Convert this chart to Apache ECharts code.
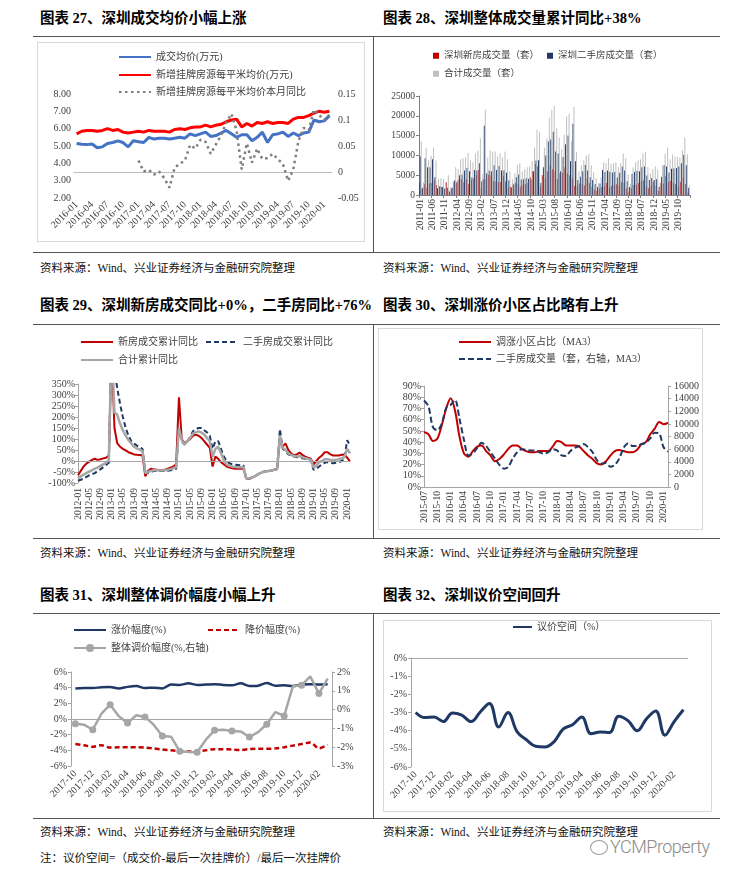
<!DOCTYPE html>
<html><head><meta charset="utf-8">
<script src="https://cdn.jsdelivr.net/npm/echarts@6/dist/echarts.min.js"></script>
<style>
body{margin:0;background:#fff;width:729px;height:881px;position:relative;overflow:hidden;font-family:"Liberation Serif","Noto Sans CJK SC",serif;}
.t{position:absolute;font-family:"Liberation Serif","Noto Sans CJK SC",serif;font-weight:700;font-size:14.5px;line-height:18px;color:#000;white-space:nowrap;}
.s{position:absolute;font-size:11.5px;line-height:14px;color:#111;white-space:nowrap;}
.h{position:absolute;height:0;border-top:1px solid #555;}
.v{position:absolute;width:0;border-left:1px solid #555;}
.c{position:absolute;}
.b{position:absolute;border:1px solid #d9d9d9;box-sizing:border-box;}
.wm{position:absolute;font-family:Roboto,"Noto Sans",sans-serif;font-weight:300;font-size:18px;letter-spacing:-0.5px;color:#8a8a8a;white-space:nowrap;}
.wmi{position:absolute;width:16px;height:13px;border:1.5px solid #9a9a9a;border-radius:50%;}
</style></head><body>

<div class="t" style="left:40px;top:9px">图表 27、深圳成交均价小幅上涨</div>
<div class="t" style="left:383px;top:9px">图表 28、深圳整体成交量累计同比+38%</div>
<div class="h" style="left:33px;top:36px;width:687px"></div>
<div class="v" style="left:373px;top:36px;height:216px"></div>
<div class="h" style="left:33px;top:252px;width:687px"></div>
<div class="s" style="left:40px;top:261px">资料来源：Wind、兴业证券经济与金融研究院整理</div>
<div class="s" style="left:383px;top:261px">资料来源：Wind、兴业证券经济与金融研究院整理</div>

<div class="t" style="left:40px;top:296px">图表 29、深圳新房成交同比+0%，二手房同比+76%</div>
<div class="t" style="left:383px;top:296px">图表 30、深圳涨价小区占比略有上升</div>
<div class="h" style="left:33px;top:324px;width:687px"></div>
<div class="v" style="left:373px;top:324px;height:214px"></div>
<div class="h" style="left:33px;top:538px;width:687px"></div>
<div class="s" style="left:40px;top:546px">资料来源：Wind、兴业证券经济与金融研究院整理</div>
<div class="s" style="left:383px;top:546px">资料来源：Wind、兴业证券经济与金融研究院整理</div>

<div class="t" style="left:40px;top:586px">图表 31、深圳整体调价幅度小幅上升</div>
<div class="t" style="left:383px;top:586px">图表 32、深圳议价空间回升</div>
<div class="h" style="left:33px;top:613px;width:687px"></div>
<div class="v" style="left:373px;top:613px;height:205px"></div>
<div class="h" style="left:33px;top:818px;width:687px"></div>
<div class="s" style="left:40px;top:825px">资料来源：Wind、兴业证券经济与金融研究院整理</div>
<div class="s" style="left:383px;top:825px">资料来源：Wind、兴业证券经济与金融研究院整理</div>
<div class="s" style="left:40px;top:851px">注：议价空间=（成交价-最后一次挂牌价）/最后一次挂牌价</div>
<div class="wmi" style="left:590px;top:840px"></div>
<div class="wm" style="left:610px;top:836px">YCMProperty</div>

<div class="b" style="left:37px;top:42px;width:328px;height:200px"></div>
<div class="b" style="left:378px;top:328px;width:325px;height:202px"></div>
<div class="b" style="left:383px;top:620px;width:329px;height:192px"></div>

<div id="c1" class="c" style="left:37px;top:42px;width:328px;height:200px"></div>
<div id="c2" class="c" style="left:378px;top:42px;width:334px;height:212px"></div>
<div id="c3" class="c" style="left:33px;top:328px;width:335px;height:205px"></div>
<div id="c4" class="c" style="left:378px;top:328px;width:325px;height:202px"></div>
<div id="c5" class="c" style="left:33px;top:618px;width:335px;height:198px"></div>
<div id="c6" class="c" style="left:383px;top:620px;width:329px;height:192px"></div>

<script>
// ---------- DATA ----------
function months(y, m, n) { const a = []; for (let i = 0; i < n; i++) { a.push(y + '-' + String(m).padStart(2, '0')); m++; if (m > 12) { m = 1; y++; } } return a; }

// Chart 27
const cat1 = months(2016, 1, 50);
const p1Avg = [5.15,5.1,5.08,5.12,4.9,4.95,5.15,5.2,5.3,5.2, 4.95,5.3,5.25,5.2,5.5,5.4,5.45,5.45,5.4,5.45, 5.5,5.45,5.7,5.6,5.7,5.8,5.55,5.6,5.75,5.9, 5.7,5.5,5.65,5.65,5.3,5.5,5.8,5.2,5.65,5.7, 5.8,5.55,5.75,5.6,5.75,5.8,6.5,6.4,6.45,6.75];
const p1List = [5.7,5.85,5.9,5.9,5.85,5.9,6.0,5.9,5.95,5.8, 5.75,5.8,5.85,5.8,5.9,5.85,5.85,5.85,5.8,5.95, 6.0,5.95,6.05,6.1,6.1,6.2,6.1,6.2,6.25,6.4, 6.5,6.55,6.1,6.3,6.15,6.35,6.3,6.4,6.3,6.35, 6.35,6.3,6.55,6.65,6.65,6.75,6.9,7.0,6.95,7.0];
const p1Yoy = [null,null,null,null,null,null,null,null,null,null,null,null,
  0.022,0.001,0.004,-0.005,0.001,-0.012,-0.03,0.008,0.016,0.022,0.052,0.045,0.062,0.058,0.035,0.053,0.07,0.095,0.112,0.08,0.005,0.055,0.018,0.045,0.025,0.027,0.035,0.025,0.015,-0.017,0.005,0.06,0.085,0.08,0.12,0.11,0.1,0.11];

// Chart 28
const cat2 = months(2011, 1, 110);
const p2New = [3000,1500,2700,1800,2900,3000,3800,2500,2100,2000,1700,3200,
  1200,1700,3300,3000,4000,4000,3300,3900,2700,3800,4200,5000,
  6300,1800,4000,4000,5100,5000,3500,3500,3300,3300,4800,3400,
  1800,2100,2900,3100,2800,2100,2500,2800,3100,4500,6000,7800,
  7200,2000,5000,4200,6000,7500,6500,6000,4000,5500,5600,7000,
  5500,5000,4200,2300,2200,2900,2800,2400,4100,3000,2000,1400,
  1000,1600,2000,2200,3000,1900,2300,2500,2700,2400,3300,3100,
  1700,800,1700,2500,2600,3000,3500,3700,2100,1700,2200,3400,
  2300,1100,2900,2900,4800,3300,3600,3000,2800,2200,3300,4400,
  2800,700];
const p2Second = [9700,1800,9300,7000,7000,9000,4500,1700,2200,2000,1600,1800,
  800,1800,3700,3500,5000,5200,6200,6800,6000,4500,6300,6200,
  8000,3500,17500,5500,6200,6000,7500,6300,7300,6200,6200,5600,
  3700,1900,2600,4500,5200,3900,4000,4200,4100,4000,6000,8700,
  8800,3000,7000,10000,13500,14000,16000,11000,10500,6000,9600,12800,
  15000,8500,18000,8500,3800,4600,6000,7600,6200,4500,3800,2800,
  2000,2900,6300,5800,6200,5900,5700,5800,4400,5600,7200,6200,
  3500,2000,5300,5800,6100,6000,7000,7200,4900,3800,4300,3800,
  4000,2100,4600,7500,7200,5700,6600,6700,6800,7200,8000,10100,
  7500,1800];
const p2Total = [13500,3300,12000,8800,9900,12000,8700,4100,4300,4100,3300,5000,
  2000,3500,7000,6500,9000,9200,9500,10700,8700,8300,10500,11200,
  14300,5300,21500,9500,11300,11000,11000,9800,10600,9500,11000,9000,
  6000,4000,5500,7600,8000,6000,6500,7000,7200,8500,12000,16500,
  16000,5000,12000,14200,19500,21500,22500,17000,14500,11500,15200,19800,
  20500,13500,22200,10800,6000,7500,8800,10000,10300,7500,5800,4200,
  3000,4500,8300,8000,9300,7800,8000,8300,7100,8000,10500,9300,
  5200,2800,7000,8300,8700,9000,10500,10900,7000,5500,6500,7200,
  6300,3200,7500,10400,12000,9000,10200,9700,9600,9400,11300,14500,
  10300,2500];

// Chart 29
const cat3 = months(2012, 1, 98);
const p3New = [-65,-45,-25,-12,-3,5,10,5,8,12,15,25,
  500,150,80,65,55,48,40,35,30,28,27,25,
  -70,-45,-35,-38,-40,-42,-42,-40,-35,-30,-25,-15,
  290,100,80,90,100,115,120,115,105,90,75,60,
  -25,20,10,-5,-15,-25,-30,-33,-35,-35,-35,-35,
  -80,-82,-75,-70,-62,-55,-50,-47,-45,-43,-40,-38,
  95,65,80,50,35,25,30,38,28,20,15,10,
  -15,0,15,25,40,40,30,25,25,25,28,30,
  15,-3];
const p3Second = [-90,-85,-80,-72,-65,-60,-55,-45,-38,-28,-18,-8,
  600,420,330,260,200,150,115,90,80,70,62,55,
  -50,-55,-50,-45,-45,-45,-45,-45,-45,-42,-40,-35,
  150,90,75,90,110,135,145,150,150,140,130,115,
  55,90,90,55,20,0,-10,-15,-17,-18,-20,-20,
  -80,-80,-75,-70,-62,-55,-50,-47,-45,-43,-40,-38,
  145,55,45,30,25,20,18,15,12,10,8,5,
  -40,-35,-25,-15,-8,-5,-8,-10,-8,-5,0,10,
  95,70];
const p3Total = [-78,-70,-62,-55,-48,-42,-35,-30,-22,-15,-8,5,
  550,220,210,170,140,115,95,80,65,57,52,45,
  -55,-50,-45,-42,-42,-43,-43,-42,-40,-37,-33,-28,
  150,95,75,90,105,125,130,135,130,120,105,90,
  20,55,65,35,5,-15,-22,-25,-27,-28,-28,-28,
  -80,-80,-75,-70,-62,-55,-50,-47,-45,-43,-40,-38,
  115,60,50,35,28,22,22,22,17,13,10,5,
  -30,-20,-5,0,8,8,5,5,5,8,12,18,
  55,35];

// Chart 30
const cat4 = months(2015, 7, 56);
const p4Up = [49,47,41,43,55,70,79,68,45,30, 27,32,36,37,32,28,23,25,29,34, 37,37,34,32,31,31,32,32,32,36, 41,40,37,37,37,36,32,28,25,21, 20,23,28,32,33,32,31,31,33,38, 40,47,52,58,56,57];
const p4Vol = [13700,12800,9500,9000,10000,12500,13000,13800,10800,7500, 5000,5300,6200,7000,6500,5500,4500,3500,2900,3200, 4500,5500,6000,5900,5800,5800,5500,5300,5500,6000, 5800,5000,4900,5700,6200,6500,6800,6300,5500,4200, 3700,3800,3200,3500,4500,6200,6900,6500,6500,6800, 7000,7700,8600,8500,6300,5600];

// Chart 31
const cat5 = months(2017, 10, 30);
const p5Up = [3.9,3.95,3.95,4.05,4.1,3.9,4.1,4.2,3.95,4.0, 3.9,4.4,4.35,4.55,4.35,4.4,4.45,4.35,4.3,4.55, 4.2,4.25,4.6,4.25,4.3,4.2,4.4,4.45,4.4,4.45];
const p5Down = [-3.2,-3.35,-3.55,-3.35,-3.65,-3.6,-3.6,-3.6,-3.65,-3.75, -3.9,-4.0,-4.1,-4.15,-4.1,-4.0,-3.85,-3.85,-3.9,-3.95, -3.85,-3.8,-3.8,-3.75,-3.6,-3.4,-3.2,-3.0,-3.75,-3.3];
const p5All = [-0.75,-0.8,-1.07,-0.22,0.26,-0.36,-0.71,-0.3,-0.39,-0.8, -1.4,-1.44,-2.22,-2.26,-2.27,-1.6,-1.1,-1.07,-1.14,-1.16, -1.46,-1.2,-0.78,-0.13,-0.34,1.24,1.29,1.77,0.85,1.65];

// Chart 32
const cat6 = months(2017, 10, 30);
const p6Space = [-3.0,-3.28,-3.25,-3.5,-3.03,-3.15,-3.5,-2.97,-2.5,-3.8, -3.0,-4.07,-4.5,-4.86,-4.9,-4.6,-3.9,-3.67,-3.25,-4.17, -4.07,-4.1,-3.2,-3.45,-4.0,-3.35,-2.92,-4.25,-3.5,-2.85];

// ---------- STYLE ----------
const FF = '"Liberation Serif","Noto Sans CJK SC",serif';
const LBL = { fontFamily: FF, fontSize: 10, color: '#404040' };
const AXC = '#A6A6A6';
const plain = v => String(v);
function lg(name, left, top, o) {
  return Object.assign({ show: true, data: [name], left: left, top: top, padding: 0, itemGap: 0, itemWidth: 32, itemHeight: 10, selectedMode: false,
    itemStyle: { opacity: 0 },
    textStyle: { fontFamily: FF, fontSize: 10, color: '#404040' } }, o || {});
}
function zeroLine() {
  return { silent: true, symbol: ['none', 'none'], label: { show: false }, lineStyle: { color: AXC, width: 1, type: 'solid' }, data: [{ yAxis: 0 }], animation: false };
}
function valAxis(o) {
  return Object.assign({ type: 'value', splitLine: { show: false }, axisLine: { show: true, lineStyle: { color: AXC } }, axisTick: { show: true, length: 3, lineStyle: { color: AXC } } }, o);
}
function init(id) { return echarts.init(document.getElementById(id), null, { renderer: 'canvas' }); }

// ---------- CHART 27 ----------
init('c1').setOption({
  animation: false,
  grid: { left: 37, right: 33, top: 52, bottom: 44, outerBoundsMode: 'none' },
  legend: [lg('成交均价(万元)', 81, 10), lg('新增挂牌房源每平米均价(万元)', 81, 28), lg('新增挂牌房源每平米均价本月同比', 81, 45)],
  xAxis: { type: 'category', data: cat1, boundaryGap: true, axisLine: { lineStyle: { color: '#BFBFBF' } }, axisTick: { show: false },
    axisLabel: Object.assign({}, LBL, { rotate: 45, interval: 2, margin: 5 }) },
  yAxis: [
    valAxis({ min: 2, max: 8, interval: 1, axisLine: { show: false }, axisTick: { show: false }, axisLabel: Object.assign({}, LBL, { margin: 3, formatter: v => v.toFixed(2) }) }),
    valAxis({ min: -0.05, max: 0.15, interval: 0.05, position: 'right', axisLine: { show: false }, axisTick: { show: false }, axisLabel: Object.assign({}, LBL, { margin: 6 }) })
  ],
  series: [
    { name: '成交均价(万元)', type: 'line', data: p1Avg, symbol: 'none', lineStyle: { color: '#4472C4', width: 3 }, itemStyle: { color: '#4472C4' } },
    { name: '新增挂牌房源每平米均价(万元)', type: 'line', data: p1List, symbol: 'none', lineStyle: { color: '#FF0000', width: 3 }, itemStyle: { color: '#FF0000' } },
    { name: '新增挂牌房源每平米均价本月同比', type: 'line', yAxisIndex: 1, data: p1Yoy, symbol: 'none', lineStyle: { color: '#7F7F7F', width: 2.5, type: [2.5, 3.5] }, itemStyle: { color: '#7F7F7F' } }
  ]
});

// ---------- CHART 28 ----------
const barLg = { itemWidth: 6, itemHeight: 6, icon: 'rect', itemStyle: { opacity: 1 }, textStyle: { fontFamily: FF, fontSize: 9.5, color: '#404040' } };
init('c2').setOption({
  animation: false,
  grid: { left: 41, right: 22, top: 54, bottom: 59, outerBoundsMode: 'none' },
  legend: [lg('深圳新房成交量（套）', 55, 9, barLg), lg('深圳二手房成交量（套）', 169, 9, barLg), lg('合计成交量（套）', 55, 27, barLg)],
  xAxis: { type: 'category', data: cat2, boundaryGap: true, axisLine: { lineStyle: { color: '#808080' } },
    axisTick: { show: true, interval: 4, length: 3, lineStyle: { color: '#808080' } },
    axisLabel: Object.assign({}, LBL, { fontSize: 9.5, rotate: 90, interval: 4, margin: 4 }) },
  yAxis: valAxis({ min: 0, max: 25000, interval: 5000, axisLine: { show: true, lineStyle: { color: '#808080' } }, axisTick: { show: true, length: 3, lineStyle: { color: '#808080' } }, axisLabel: Object.assign({}, LBL, { fontSize: 9.5, margin: 4, formatter: plain }) }),
  series: [
    { name: '深圳新房成交量（套）', type: 'bar', data: p2New, barGap: '0%', barCategoryGap: '12%', itemStyle: { color: '#C00000' } },
    { name: '深圳二手房成交量（套）', type: 'bar', data: p2Second, barGap: '0%', barCategoryGap: '12%', itemStyle: { color: '#1F3864' } },
    { name: '合计成交量（套）', type: 'bar', data: p2Total, barGap: '0%', barCategoryGap: '12%', itemStyle: { color: '#BFBFBF' } }
  ]
});

// ---------- CHART 29 ----------
init('c3').setOption({
  animation: false,
  grid: { left: 45, right: 18, top: 56, bottom: 50, outerBoundsMode: 'none' },
  legend: [lg('新房成交累计同比', 47, 9), lg('二手房成交累计同比', 172, 9), lg('合计累计同比', 47, 27)],
  xAxis: { type: 'category', data: cat3, boundaryGap: false, axisLine: { show: false }, axisTick: { show: false },
    axisLabel: Object.assign({}, LBL, { fontSize: 9.5, rotate: 90, interval: 3, margin: 5 }) },
  yAxis: valAxis({ min: -100, max: 350, interval: 50, axisLabel: Object.assign({}, LBL, { margin: 3, formatter: '{value}%' }) }),
  series: [
    { name: '新房成交累计同比', type: 'line', data: p3New, symbol: 'none', clip: true, lineStyle: { color: '#C00000', width: 2 }, itemStyle: { color: '#C00000' }, markLine: zeroLine() },
    { name: '二手房成交累计同比', type: 'line', data: p3Second, symbol: 'none', clip: true, lineStyle: { color: '#1F3864', width: 2, type: [5, 3] }, itemStyle: { color: '#1F3864' } },
    { name: '合计累计同比', type: 'line', data: p3Total, symbol: 'none', clip: true, lineStyle: { color: '#A6A6A6', width: 2.5 }, itemStyle: { color: '#A6A6A6' } }
  ]
});

// ---------- CHART 30 ----------
init('c4').setOption({
  animation: false,
  grid: { left: 46, right: 35, top: 58, bottom: 43, outerBoundsMode: 'none' },
  legend: [lg('调涨小区占比（MA3）', 80, 9), lg('二手房成交量（套，右轴，MA3）', 80, 26)],
  xAxis: { type: 'category', data: cat4, boundaryGap: false, axisLine: { lineStyle: { color: AXC } }, axisTick: { show: false },
    axisLabel: Object.assign({}, LBL, { fontSize: 9.5, rotate: 90, interval: 2, margin: 4 }) },
  yAxis: [
    valAxis({ min: 0, max: 90, interval: 10, axisLabel: Object.assign({}, LBL, { margin: 3, formatter: '{value}%' }) }),
    valAxis({ min: 0, max: 16000, interval: 2000, position: 'right', axisLabel: Object.assign({}, LBL, { margin: 6, formatter: plain }) })
  ],
  series: [
    { name: '调涨小区占比（MA3）', type: 'line', data: p4Up, symbol: 'none', smooth: 0.3, lineStyle: { color: '#C00000', width: 2 }, itemStyle: { color: '#C00000' } },
    { name: '二手房成交量（套，右轴，MA3）', type: 'line', yAxisIndex: 1, data: p4Vol, symbol: 'none', smooth: 0.3, lineStyle: { color: '#1F3864', width: 2, type: [6, 3] }, itemStyle: { color: '#1F3864' } }
  ]
});

// ---------- CHART 31 ----------
init('c5').setOption({
  animation: false,
  grid: { left: 38, right: 36, top: 54, bottom: 50, outerBoundsMode: 'none' },
  legend: [lg('涨价幅度(%)', 40, 7), lg('降价幅度(%)', 174, 7), lg('整体调价幅度(%,右轴)', 40, 25, { itemStyle: { opacity: 1 } })],
  xAxis: { type: 'category', data: cat5, boundaryGap: true, axisLine: { show: false }, axisTick: { show: false },
    axisLabel: Object.assign({}, LBL, { rotate: 45, interval: 1, margin: 6 }) },
  yAxis: [
    valAxis({ min: -6, max: 6, interval: 2, axisLabel: Object.assign({}, LBL, { margin: 4, formatter: '{value}%' }) }),
    valAxis({ min: -3, max: 2, interval: 1, position: 'right', axisLabel: Object.assign({}, LBL, { margin: 5, formatter: '{value}%' }) })
  ],
  series: [
    { name: '涨价幅度(%)', type: 'line', data: p5Up, symbol: 'none', smooth: 0.3, lineStyle: { color: '#1F3864', width: 2.5 }, itemStyle: { color: '#1F3864' }, markLine: zeroLine() },
    { name: '降价幅度(%)', type: 'line', data: p5Down, symbol: 'none', smooth: 0.3, lineStyle: { color: '#C00000', width: 2.5, type: [5, 3] }, itemStyle: { color: '#C00000' } },
    { name: '整体调价幅度(%,右轴)', type: 'line', yAxisIndex: 1, data: p5All, symbol: 'circle', symbolSize: 7, showSymbol: true, lineStyle: { color: '#A6A6A6', width: 2.5 }, itemStyle: { color: '#A6A6A6' } }
  ]
});

// ---------- CHART 32 ----------
init('c6').setOption({
  animation: false,
  grid: { left: 28, right: 24, top: 38, bottom: 45, outerBoundsMode: 'none' },
  legend: [lg('议价空间（%）', 129, 2, { itemWidth: 19 })],
  xAxis: { type: 'category', data: cat6, boundaryGap: true, axisLine: { show: false }, axisTick: { show: false },
    axisLabel: Object.assign({}, LBL, { rotate: 45, interval: 1, margin: 6 }) },
  yAxis: valAxis({ min: -6, max: 0, interval: 1, axisLabel: Object.assign({}, LBL, { margin: 4, formatter: '{value}%' }) }),
  series: [
    { name: '议价空间（%）', type: 'line', data: p6Space, symbol: 'none', smooth: 0.4, lineStyle: { color: '#1F3864', width: 3 }, itemStyle: { color: '#1F3864' }, markLine: zeroLine() }
  ]
});
</script>
</body></html>
